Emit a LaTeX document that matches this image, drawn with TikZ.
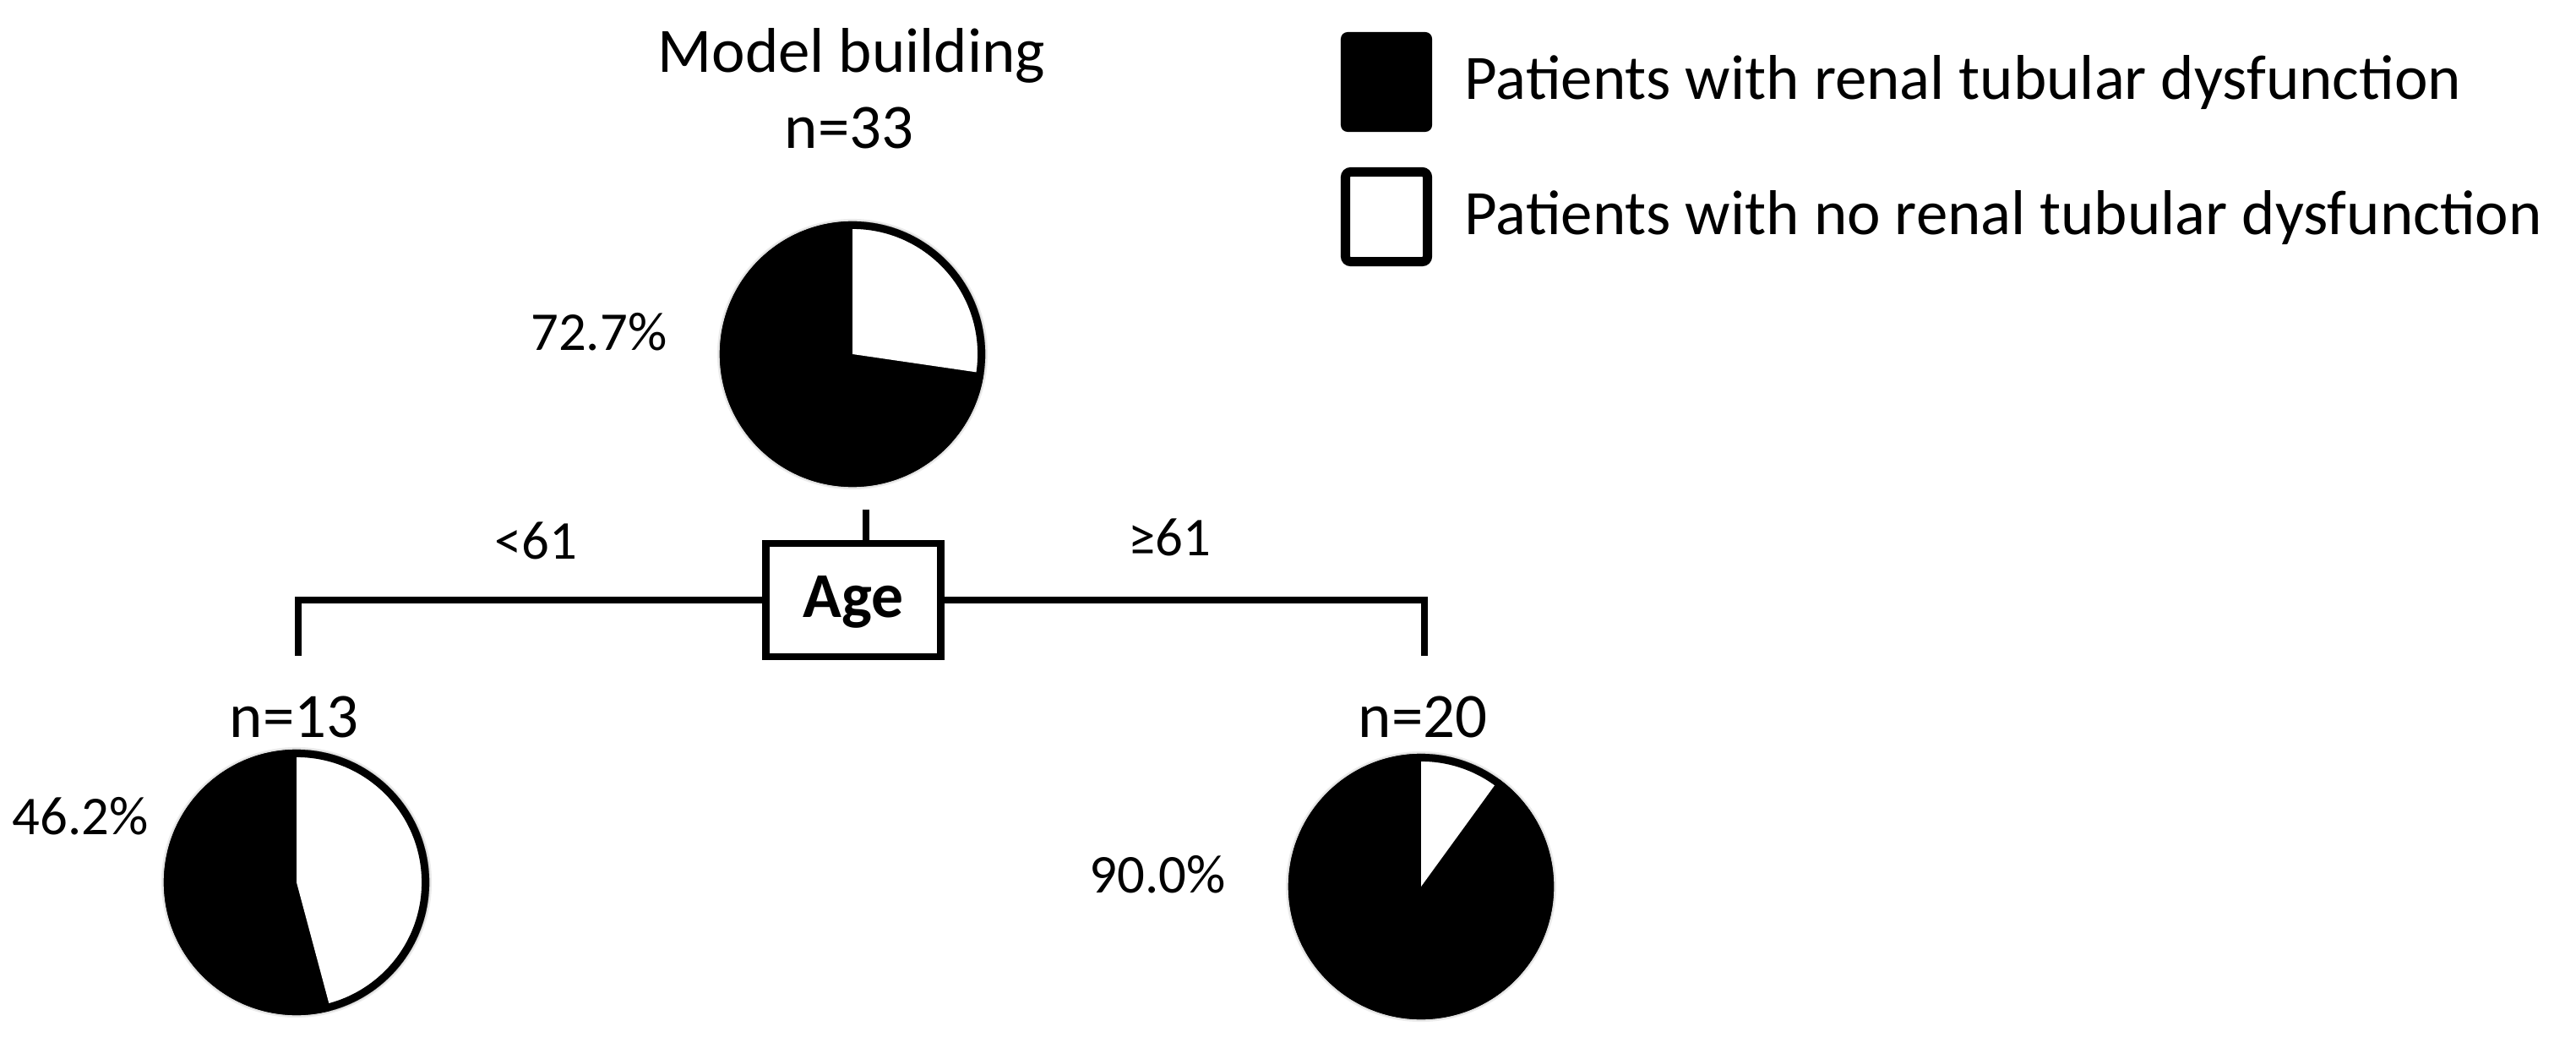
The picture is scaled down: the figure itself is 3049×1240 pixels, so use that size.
\documentclass[tikz,border=0pt]{standalone}
\usepackage{fontspec}
\setmainfont{Carlito}
\begin{document}
\begin{tikzpicture}[x=0.01cm,y=-0.01cm,
  lbl/.style={inner sep=0pt, font=\fontsize{21.3pt}{25pt}\selectfont},
  pct/.style={inner sep=0pt, font=\fontsize{18.4pt}{22pt}\selectfont},
  pie/.style={circle, fill=black, inner sep=0pt, minimum size=3.14cm},
  pieline/.style={line width=0.09cm},
  pieshadow/.style={fill=black, opacity=0.07},
  conn/.style={line width=0.085cm},
  agebox/.style={draw, line width=0.085cm, inner sep=0pt, minimum width=2.065cm, minimum height=1.335cm,
    text height=0.6cm, text depth=0.2cm, font=\fontsize{21.5pt}{25pt}\selectfont\bfseries},
  keyfull/.style={fill=black, rounded corners=0.08cm, inner sep=0pt, minimum width=1.08cm, minimum height=1.18cm},
  keyempty/.style={draw=black, fill=white, line width=0.11cm, rounded corners=0.06cm, inner sep=0pt, minimum width=0.97cm, minimum height=1.06cm},
]
\useasboundingbox (0,0) rectangle (3049,1240);

\coordinate (c0) at (1009,419);
\coordinate (c1) at (351,1044);
\coordinate (c2) at (1682,1049);

% soft shadows (bottom-right only)
\foreach \c in {c0,c1,c2}{
  \foreach \r in {1.57,1.585,1.60}{
    \fill[pieshadow, shift={(4,8)}] (\c) circle[radius=\r cm];
  }
}

% pies
\node[pie] (p0) at (c0) {};
\fill[white] (p0.center) -- ++(90:1.57cm) arc[start angle=90,end angle=-8.3,radius=1.57cm] -- cycle;
\draw[pieline] (p0.center) circle[radius=1.525cm];

\node[pie] (p1) at (c1) {};
\fill[white] (p1.center) -- ++(90:1.57cm) arc[start angle=90,end angle=-75,radius=1.57cm] -- cycle;
\draw[pieline] (p1.center) circle[radius=1.525cm];

\node[pie] (p2) at (c2) {};
\fill[white] (p2.center) -- ++(90:1.57cm) arc[start angle=90,end angle=54,radius=1.57cm] -- cycle;
\draw[pieline] (p2.center) circle[radius=1.525cm];

% split
\node[agebox] (age) at (1010,710) {Age};
\coordinate (s0) at (1025,603);
\coordinate (l1) at (353,776);
\coordinate (r1) at (1686,776);
\draw[conn] (s0) -- (s0 |- age.north);
\draw[conn] (age.west) -| (l1);
\draw[conn] (age.east) -| (r1);

% labels
\node[lbl, anchor=base] (title) at (1008,86) {Model building};
\node[lbl, anchor=base] (n0) at (1005,176) {n=33};
\node[pct, anchor=base east] (pc0) at (790,415) {72.7\%};
\node[pct, anchor=base] (lt) at (634,662) {<61};
\node[pct, anchor=base] (ge) at (1384,658) {≥61};
\node[lbl, anchor=base] (n1) at (348,872) {n=13};
\node[lbl, anchor=base] (n2) at (1684,872) {n=20};
\node[pct, anchor=base west] (pc1) at (14,987) {46.2\%};
\node[pct, anchor=base] (pc2) at (1370,1056) {90.0\%};

% legend
\node[keyfull] (k1) at (1641,97) {};
\node[keyempty] (k2) at (1641,256.5) {};
\node[lbl, anchor=base west] (t1) at (1733,118) {Patients with renal tubular dysfunction};
\node[lbl, anchor=base west] (t2) at (1733,278) {Patients with no renal tubular dysfunction};
\end{tikzpicture}
\end{document}
